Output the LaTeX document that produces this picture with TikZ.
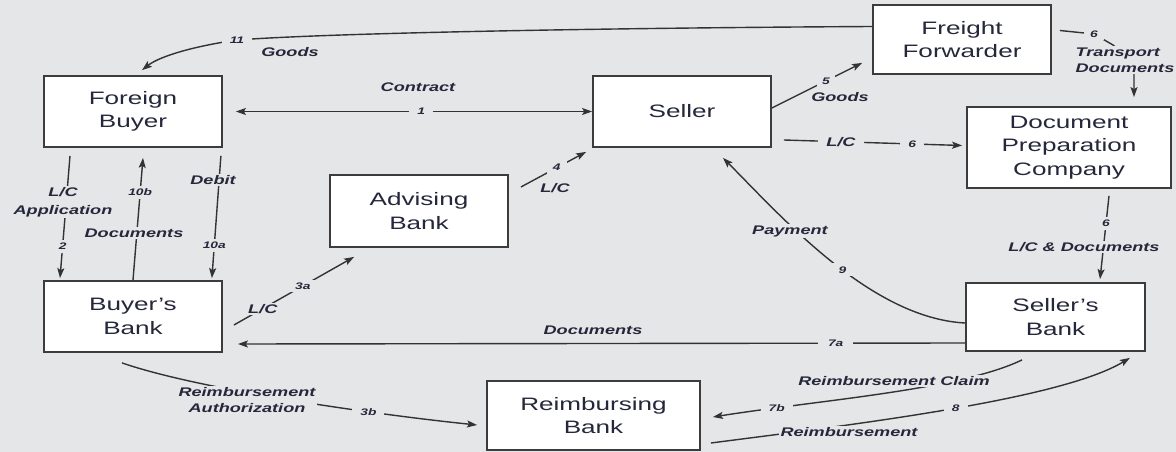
\documentclass[tikz,border=0pt]{standalone}
\usepackage{fontspec}
\setmainfont{Liberation Sans}[FakeStretch=1.45]
\usetikzlibrary{arrows.meta}
\definecolor{bg}{HTML}{E5E6E8}
\definecolor{ln}{HTML}{333333}
\definecolor{txt}{HTML}{25273A}
\definecolor{boxline}{HTML}{3C3C3C}
\tikzset{
  box/.style={draw=boxline, line width=1.8pt, fill=white, inner sep=0pt, align=center,
    font=\fontsize{18}{23.5}\selectfont, text=txt},
  conn/.style={draw=ln, line width=1.4pt},
  lab/.style={fill=bg, inner sep=1.5pt, align=center, text=txt,
    font=\fontsize{12.5}{16}\selectfont\bfseries\itshape},
  num/.style={lab, inner xsep=8pt, inner ysep=3pt, font=\fontsize{9.5}{12}\selectfont\bfseries\itshape},
  >={Stealth[length=10pt,width=7pt,inset=2pt]}
}
\begin{document}
\begin{tikzpicture}[x=1pt,y=-1pt]
\fill[bg] (0,0) rectangle (1176,452);
\useasboundingbox (0,0) rectangle (1176,452);

% boxes
\node[box, minimum width=178pt, minimum height=71pt] (fb) at (133,111.5) {Foreign\\Buyer};
\node[box, minimum width=178pt, minimum height=71pt] (sel) at (682,111.5) {Seller};
\node[box, minimum width=178pt, minimum height=69pt] (ff) at (962,39.5) {Freight\\Forwarder};
\node[box, minimum width=204pt, minimum height=81pt] (dpc) at (1069,147.5) {Document\\Preparation\\Company};
\node[box, minimum width=178pt, minimum height=72pt] (ab) at (419,211) {Advising\\Bank};
\node[box, minimum width=178pt, minimum height=71pt] (bb) at (133,316.5) {Buyer's\\Bank};
\node[box, minimum width=179pt, minimum height=68pt] (sb) at (1055.5,317) {Seller's\\Bank};
\node[box, minimum width=213pt, minimum height=69pt] (rb) at (593.5,415.5) {Reimbursing\\Bank};

% 11 Goods
\draw[conn,->] ([shift={(0pt,13pt)}]ff.west) .. controls (600,28) and (330,33) .. (237,40)
  node[num] (n11) {11} .. controls (195,46) and (160,56) .. ([shift={(9pt,5pt)}]fb.north);
\node[lab] (lgoods11) at (290,52) {Goods};

% 1 Contract
\draw[conn,<->] ([xshift=13pt]fb.east) -- (sel.west) node[num,pos=0.52] (n1) {1};
\node[lab] (lcontract) at (418,87) {Contract};

% 5 Goods
\draw[conn,->] ([yshift=3.5pt]sel.east) -- ([shift={(-10pt,12pt)}]ff.south west)
  node[num,pos=0.6,inner xsep=5pt] (n5) {5};
\node[lab] (lgoods5) at (840,97) {Goods};

% 6 L/C
\draw[conn,->] ([shift={(12pt,-28.5pt)}]sel.east) -- ([shift={(-4pt,2pt)}]dpc.west)
  node[lab,pos=0.32,inner xsep=8pt] (llc6) {L/C} node[num,pos=0.72] (n6a) {6};

% 6 Transport Documents
\draw[conn,->] ([shift={(8pt,9pt)}]ff.east) -- (1094,34) node[num,inner xsep=6pt] (n6b) {6}
  -- (1113,45) -- (1134,62) -- ([shift={(65pt,9pt)}]dpc.north);
\node[lab, align=left] (ltd) at (1125,60) {Transport\\Documents};

% 6 L/C & Documents
\draw[conn,->] ([shift={(40pt,-7pt)}]dpc.south) -- ([shift={(44.5pt,3pt)}]sb.north)
  node[num,pos=0.33] (n6c) {6};
\node[lab] (llcd) at (1084,247) {L/C \& Documents};

% 9 Payment
\draw[conn,->] ([yshift=-6pt]sb.west) .. controls (870,318) and (780,215) ..
  ([shift={(41pt,-10pt)}]sel.south) node[num,pos=0.45] (n9) {9};
\node[lab] (lpay) at (790,231) {Payment};

% 7a Documents
\draw[conn,->] ([yshift=-26pt]sb.west) -- ([shift={(15pt,-27.5pt)}]bb.east)
  node[num,pos=0.178,inner xsep=10pt] (n7a) {7a};
\node[lab] (ldoc7a) at (593,330) {Documents};

% 7b Reimbursement Claim
\draw[conn,->] ([shift={(-33.5pt,-8pt)}]sb.south) .. controls (960,390) and (820,400) ..
  ([shift={(12pt,-1.5pt)}]rb.east) node[num,pos=0.81] (n7b) {7b};
\node[lab] (lclaim) at (894,381) {Reimbursement Claim};

% 8 Reimbursement
\draw[conn,->] ([shift={(10pt,-27.5pt)}]rb.east) .. controls (850,425) and (1060,400) ..
  ([shift={(-16pt,-6pt)}]sb.south east) node[num,pos=0.52] (n8) {8};
\node[lab] (lreimb) at (849,432) {Reimbursement};

% 3b Reimbursement Authorization
\draw[conn,->] ([shift={(-11pt,-10pt)}]bb.south) .. controls (200,390) and (380,415) ..
  ([shift={(-9pt,-9.5pt)}]rb.west) node[num,pos=0.69] (n3b) {3b};
\node[lab] (lauth) at (247,400) {Reimbursement\\Authorization};

% 3a L/C
\draw[conn,->] ([shift={(11pt,-8.5pt)}]bb.east) -- ([shift={(25pt,-9pt)}]ab.south west)
  node[num,pos=0.574] (n3a) {3a} node[lab,pos=0.24] (llc3a) {L/C};

% 4 L/C
\draw[conn,->] ([shift={(12pt,24pt)}]ab.east) -- ([shift={(-6pt,-4pt)}]sel.south west)
  node[num,pos=0.55,inner xsep=6pt] (n4) {4};
\node[lab] (llc4) at (555,188) {L/C};

% 2 L/C Application
\draw[conn,->] ([shift={(-63pt,-8pt)}]fb.south) -- ([shift={(-73pt,2pt)}]bb.north)
  node[num,pos=0.742] (n2) {2};
\node[lab, font=\fontsize{12.5}{18}\selectfont\bfseries\itshape] (lapp) at (63,202) {L/C\\Application};

% 10b Documents
\draw[conn,->] (bb.north) -- ([shift={(10pt,-10pt)}]fb.south)
  node[num,pos=0.718] (n10b) {10b};
\node[lab] (ldoc10b) at (134,233) {Documents};

% 10a Debit
\draw[conn,->] ([shift={(-2pt,-8pt)}]fb.south east) -- ([shift={(-11pt,2pt)}]bb.north east)
  node[num,pos=0.734] (n10a) {10a};
\node[lab] (ldebit) at (213,180) {Debit};
\end{tikzpicture}
\end{document}
